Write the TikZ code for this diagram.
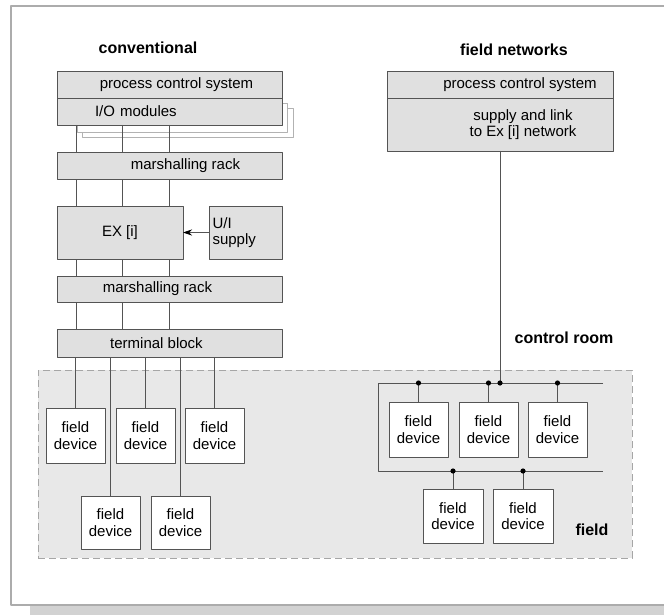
\documentclass[tikz,border=0pt]{standalone}
\usepackage{fontspec}
\setmainfont{Liberation Sans}
\usetikzlibrary{arrows.meta}
\definecolor{boxgray}{gray}{0.88}
\definecolor{zonegray}{gray}{0.91}
\definecolor{linegray}{gray}{0.33}
\begin{document}
\begin{tikzpicture}[x=1pt, y=-1pt, font=\fontsize{15}{16.5}\selectfont, line join=round,
  unit/.style={draw=linegray, fill=boxgray, line width=0.9pt, anchor=north west, inner sep=0pt, outer sep=0pt, align=center},
  device/.style={draw=linegray, fill=white, line width=0.9pt, anchor=north west, inner sep=0pt, outer sep=0pt, minimum width=59pt, minimum height=55pt, align=center},
  wire/.style={draw=linegray, line width=0.9pt},
  heading/.style={font=\fontsize{16}{16}\selectfont\bfseries}]
	\useasboundingbox (0,0) rectangle (664,615);
	% ==========================================
	\fill[gray!35] (30,606) rectangle (700,615);
	\draw[gray!65, line width=1.6pt] (11,6) rectangle (700,605);
	\node[draw=gray!70, dashed, dash pattern=on 7pt off 4pt, fill=zonegray, line width=0.9pt, anchor=north west, minimum width=594pt, minimum height=188pt, inner sep=0pt] (zone) at (38,370) {};
	% conventional
	\node[heading] (conv) at (148,48) {conventional};
	\draw[gray!60, line width=0.8pt] (77,125) -- (77,132) -- (287,132) -- (287,103) -- (282,103);
	\draw[gray!60, line width=0.8pt] (82,132) -- (82,137) -- (293,137) -- (293,108) -- (287,108);
	\node[unit, minimum width=225pt, minimum height=27pt] (pcsL) at (57,71) {\hspace*{14pt}process control system};
	\node[unit, minimum width=225pt, minimum height=27pt, text width=215pt, align=left] (io) at (57,98) {\hspace*{33pt}I/O modules};
	\node[unit, minimum width=225pt, minimum height=27pt] (rack1) at (57,152) {\hspace*{32pt}marshalling rack};
	\node[unit, minimum width=126pt, minimum height=53pt] (ex) at (57,206) {EX [i]};
	\node[unit, minimum width=73pt, minimum height=53pt, text width=66pt, align=left] (ui) at (209,206) {U/I\\supply};
	\node[unit, minimum width=225pt, minimum height=26pt] (rack2) at (57,276) {\hspace*{0pt}marshalling rack\hspace*{24pt}};
	\node[unit, minimum width=225pt, minimum height=28pt] (term) at (57,329) {terminal block\hspace*{26pt}};
	\foreach \a/\b in {io/rack1, rack1/ex, ex/rack2, rack2/term}
		\foreach \dx in {19,65,112}
			\draw[wire] ([xshift=\dx pt]\a.south west) -- ([xshift=\dx pt]\b.north west);
	\draw[wire, -{Stealth[length=9pt, width=6pt, black]}] (ui.west) -- (ex.east);
	% field devices, conventional wiring
	\node[device] (fd1) at (46,408) {field\\device};
	\node[device] (fd2) at (116,408) {field\\device};
	\node[device] (fd3) at (185,408) {field\\device};
	\node[device, minimum height=53pt] (fd4) at (81,496) {field\\device};
	\node[device, minimum height=53pt] (fd5) at (151,496) {field\\device};
	\foreach \d in {fd1,fd2,fd3,fd4,fd5}
		\draw[wire] (\d.north) -- (\d.north |- term.south);
	% ==========================================
	% field networks
	\node[heading] (fnet) at (514,50) {field networks};
	\node[unit, minimum width=226pt, minimum height=27pt] (pcsR) at (387,71) {\hspace*{40pt}process control system};
	\node[unit, minimum width=226pt, minimum height=53pt] (sup) at (387,98) {\hspace*{46pt}supply and link\\\hspace*{46pt}to Ex [i] network};
	\node[heading] (croom) at (564,338) {control room};
	\node[heading] (fieldlbl) at (592,530) {field};
	% bus
	\coordinate (busTL) at (378,383);
	\coordinate (busTR) at (603,383);
	\coordinate (busBL) at (378,471);
	\coordinate (busBR) at (603,471);
	\draw[wire] (busTR) -- (busTL) -- (busBL) -- (busBR);
	\draw[wire] (sup.south) -- (sup.south |- busTL);
	\fill (sup.south |- busTL) circle (2.6pt);
	\node[device] (dr1) at (389,402) {field\\device};
	\node[device] (dr2) at (459,402) {field\\device};
	\node[device] (dr3) at (528,402) {field\\device};
	\node[device, minimum width=60pt, minimum height=54pt] (dr4) at (423,489) {field\\device};
	\node[device, minimum width=60pt, minimum height=54pt] (dr5) at (493,489) {field\\device};
	\foreach \d in {dr1,dr2,dr3} {
		\draw[wire] (\d.north) -- (\d.north |- busTL);
		\fill (\d.north |- busTL) circle (2.6pt);
	}
	\foreach \d in {dr4,dr5} {
		\draw[wire] (\d.north) -- (\d.north |- busBL);
		\fill (\d.north |- busBL) circle (2.6pt);
	}
\end{tikzpicture}
\end{document}
